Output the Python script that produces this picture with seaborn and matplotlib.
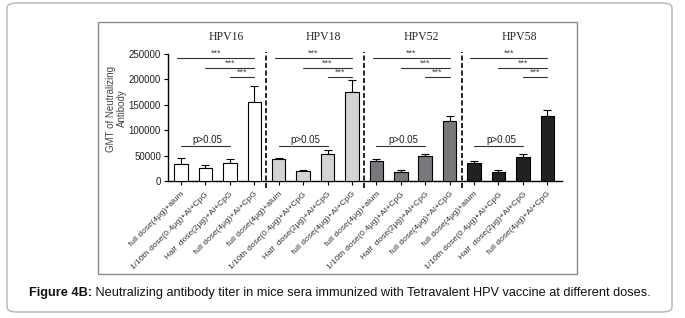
import numpy as np
import pandas as pd
import matplotlib
matplotlib.use('Agg')
import matplotlib.pyplot as plt
import seaborn as sns
from matplotlib.patches import FancyBboxPatch, Rectangle

# data
strains = ['HPV16', 'HPV18', 'HPV52', 'HPV58']
groups = ['full dose(4μg)+alum', '1/10th dose(0.4μg)+Al+CpG',
          'Half  dose(2μg)+Al+CpG', 'full dose(4μg)+Al+CpG']
hpv16 = [34000, 25500, 36000, 155000]
hpv18 = [42500, 19500, 53500, 175000]
hpv52 = [38500, 18000, 48500, 118000]
hpv58 = [35500, 18500, 46500, 127000]
hpv16_sem = [10500, 5500, 8000, 32000]
hpv18_sem = [3500, 1200, 8000, 23000]
hpv52_sem = [5000, 3000, 5000, 9000]
hpv58_sem = [4500, 3000, 7000, 13000]
colors = ['#ffffff', '#d3d3d5', '#77787b', '#231f20']
yticks = [0, 50000, 100000, 150000, 200000, 250000]

vals = [hpv16, hpv18, hpv52, hpv58]
sems = [hpv16_sem, hpv18_sem, hpv52_sem, hpv58_sem]
rows = []
for s, v, e in zip(strains, vals, sems):
    for g, y, err in zip(groups, v, e):
        rows.append({'strain': s, 'group': g, 'gmt': y, 'sem': err})
df = pd.DataFrame(rows)
df['bar'] = [str(i) for i in range(len(df))]

sns.set_style('ticks')
plt.rcParams['font.family'] = ['Liberation Sans', 'DejaVu Sans']

fig = plt.figure(figsize=(6.85, 3.18), dpi=100)
ax = fig.add_axes([168/685, 1 - 181/318, (562-168)/685, (181-54)/318])

sns.barplot(data=df, x='bar', y='gmt', hue='strain', palette=colors,
            dodge=False, width=0.55, edgecolor='black', linewidth=0.8,
            legend=False, ax=ax, zorder=3)
x = np.arange(len(df))
ax.errorbar(x, df['gmt'], yerr=[np.zeros(len(df)), df['sem']], fmt='none',
            ecolor='black', elinewidth=0.8, capsize=3, capthick=0.8, zorder=2)

ax.set_xlim(-0.53, 15.6)
ax.set_ylim(0, 250000)
ax.set_yticks(yticks)
ax.set_yticklabels([str(t) for t in yticks], fontsize=7, color='#222')
ax.set_xticks(x)
ax.set_xticklabels(df['group'], rotation=45, ha='right', rotation_mode='anchor',
                   fontsize=6.0, color='#333')
ax.tick_params(axis='both', length=3, width=0.8, color='black', pad=2)
ax.tick_params(axis='x', pad=4)
ax.set_xlabel('')
ax.set_ylabel('GMT of Neutralizing\nAntibody', fontsize=7, color='#444',
              linespacing=1.1)
ax.yaxis.set_label_coords(-0.105, 0.57)
for sp in ['left', 'bottom']:
    ax.spines[sp].set_linewidth(1.0)
    ax.spines[sp].set_color('black')
sns.despine(ax=ax)

# separators, titles and significance marks
for k in range(4):
    b0 = 4 * k
    if k > 0:
        ax.plot([b0 - 0.5, b0 - 0.5], [-14000, 254000], color='black', lw=1.2,
                ls=(0, (3, 1.5)), clip_on=False)
    ax.text(b0 + 1.85, 283000, strains[k], family='Liberation Serif', fontsize=8.5,
            ha='center', va='center')
    for i, yy in zip([0, 1, 2], [241500, 222000, 204000]):
        x0 = b0 + i - (0.15 if i == 0 else 0)
        ax.plot([x0, b0 + 3], [yy, yy], color='#333', lw=0.8, clip_on=False)
        ax.text((x0 + b0 + 3) / 2, yy + 1000, '***', fontsize=6.5, color='#444',
                ha='center', va='bottom')
    ax.plot([b0, b0 + 2], [69000, 69000], color='#333', lw=0.8)
    ax.text(b0 + 1.1, 70500, 'p>0.05', fontsize=7, color='#222',
            ha='center', va='bottom')

# frames
fig.patches.append(FancyBboxPatch((7/685, 1 - 312/318), (672-7)/685, (312-3)/318,
                                  boxstyle='round,pad=0,rounding_size=0.015',
                                  transform=fig.transFigure, fill=False,
                                  edgecolor='#b4b4b4', lw=1.0))
fig.patches.append(Rectangle((98/685, 1 - 274/318), (577-98)/685, (274-22)/318,
                             transform=fig.transFigure, fill=False,
                             edgecolor='#8a8a8a', lw=1.0))

# caption
t1 = fig.text(29/685, 1 - 293/318, 'Figure 4B:', fontsize=9.2, fontweight='bold',
              ha='left', va='center', color='#111')
ax.annotate(' Neutralizing antibody titer in mice sera immunized with Tetravalent '
            'HPV vaccine at different doses.', xy=(1, 0.5), xycoords=t1,
            fontsize=9.2, ha='left', va='center', color='#111')

fig.savefig('out.png', dpi=100)
